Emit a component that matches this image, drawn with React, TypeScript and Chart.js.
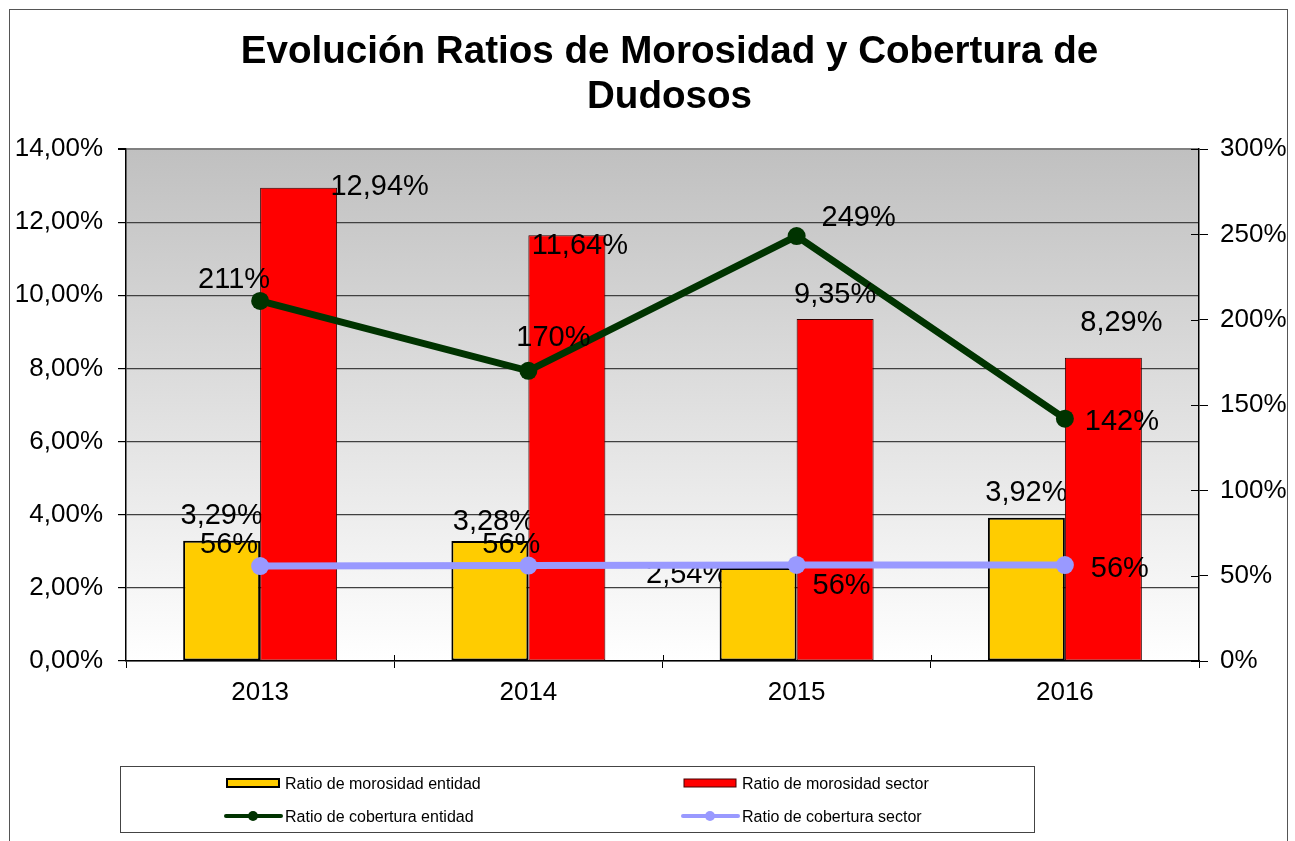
import React, { useEffect, useRef } from 'react';
import { Chart, registerables } from 'chart.js';

Chart.register(...registerables);

// ---------- data ----------
const categories = ['2013', '2014', '2015', '2016'];
const morosidadEntidad = [3.29, 3.28, 2.54, 3.92];
const morosidadSector = [12.94, 11.64, 9.35, 8.29];
const coberturaEntidad = [211, 170, 249, 142];
const coberturaSector = [55.6, 55.9, 56.3, 56.2];
const seriesNames = [
  'Ratio de morosidad entidad',
  'Ratio de morosidad sector',
  'Ratio de cobertura entidad',
  'Ratio de cobertura sector',
];
const titleLines = ['Evolución Ratios de Morosidad y Cobertura de', 'Dudosos'];
const leftAxis = { min: 0, max: 14, step: 2 };
const rightAxis = { min: 0, max: 300, step: 50 };

// ---------- styles ----------
const FONT = "'Liberation Sans', Arial, Helvetica, sans-serif";
const YELLOW = '#FFCC00';
const RED = '#FF0000';
const GREEN = '#003300';
const PURPLE = '#9999FF';
const LABEL_SIZE = 29;

// label offsets (px) from each mark's anchor: [dx, dy] of the text's ink centre
const labelOffsets: number[][][] = [
  [[0, -27], [4, -21], [-71, 5], [0, -27]],
  [[81, -3], [13, 8], [0, -26], [18, -37]],
  [[-26, -23], [25, -35], [62, -20], [57, 1]],
  [[-31, -23], [-17, -23], [45, 19], [55, 2]],
];

const fmtLeft = (v: number) => v.toFixed(2).replace('.', ',') + '%';
const fmtRight = (v: number) => Math.round(v) + '%';

function drawLabels(chart: any, dsIndex: number) {
  const { ctx } = chart;
  const meta = chart.getDatasetMeta(dsIndex);
  const data = chart.data.datasets[dsIndex].data as number[];
  const isRight = dsIndex >= 2;
  ctx.save();
  ctx.fillStyle = '#000';
  ctx.font = `${LABEL_SIZE}px ${FONT}`;
  ctx.textAlign = 'center';
  ctx.textBaseline = 'alphabetic';
  meta.data.forEach((el: any, i: number) => {
    const [dx, dy] = labelOffsets[dsIndex][i];
    const text = isRight ? fmtRight(data[i]) : fmtLeft(data[i]);
    ctx.fillText(text, el.x + dx, el.y + dy + LABEL_SIZE * 0.358);
  });
  ctx.restore();
}

const decorPlugin = {
  id: 'decor',
  beforeDraw(chart: any) {
    const { ctx, chartArea: a, width, height } = chart;
    ctx.save();
    ctx.fillStyle = '#fff';
    ctx.fillRect(0, 0, width, height);
    // outer frame
    ctx.strokeStyle = '#555';
    ctx.lineWidth = 1;
    ctx.strokeRect(9.5, 9.5, 1278, height + 20);
    // plot gradient
    const g = ctx.createLinearGradient(0, a.top, 0, a.bottom);
    g.addColorStop(0, '#C0C0C0');
    g.addColorStop(1, '#FFFFFF');
    ctx.fillStyle = g;
    ctx.fillRect(a.left, a.top, a.right - a.left, a.bottom - a.top);
    // title
    ctx.fillStyle = '#000';
    ctx.font = `bold 38.6px ${FONT}`;
    ctx.textAlign = 'center';
    ctx.textBaseline = 'alphabetic';
    const cx = (a.left + a.right) / 2 + 7;
    titleLines.forEach((t, i) => ctx.fillText(t, cx, 63 + i * 44.5));
    // legend
    ctx.strokeStyle = '#444';
    ctx.lineWidth = 1;
    ctx.strokeRect(120.5, 766.5, 914, 66);
    const cols = [227, 684];
    const rows = [783, 816];
    ctx.font = `16px ${FONT}`;
    ctx.textAlign = 'left';
    const items = [
      { kind: 'bar', color: YELLOW, border: '#000', bw: 2, col: 0, row: 0 },
      { kind: 'bar', color: RED, border: '#400', bw: 1, col: 1, row: 0 },
      { kind: 'line', color: GREEN, col: 0, row: 1 },
      { kind: 'line', color: PURPLE, col: 1, row: 1 },
    ];
    items.forEach((it, i) => {
      const x = cols[it.col];
      const y = rows[it.row];
      if (it.kind === 'bar') {
        ctx.fillStyle = it.color;
        ctx.fillRect(x, y - 4, 52, 8);
        ctx.strokeStyle = it.border!;
        ctx.lineWidth = it.bw!;
        ctx.strokeRect(x, y - 4, 52, 8);
      } else {
        ctx.strokeStyle = it.color;
        ctx.lineWidth = 4;
        ctx.lineCap = 'round';
        ctx.beginPath();
        ctx.moveTo(x - 1, y);
        ctx.lineTo(x + 54, y);
        ctx.stroke();
        ctx.fillStyle = it.color;
        ctx.beginPath();
        ctx.arc(x + 26, y, 5, 0, Math.PI * 2);
        ctx.fill();
      }
      ctx.fillStyle = '#000';
      ctx.fillText(seriesNames[i], x + 58, y + 5.7);
    });
    ctx.restore();
  },
  beforeDatasetsDraw(chart: any) {
    drawLabels(chart, 0);
  },
  afterDatasetsDraw(chart: any) {
    const { ctx, chartArea: a } = chart;
    // inner halves of crossing tick marks
    ctx.save();
    ctx.strokeStyle = '#000';
    ctx.lineWidth = 1;
    const n = categories.length;
    const step = (a.right - a.left) / n;
    for (let i = 1; i < n; i++) {
      const x = Math.round(a.left + i * step) + 0.5;
      ctx.beginPath();
      ctx.moveTo(x, a.bottom - 6);
      ctx.lineTo(x, a.bottom);
      ctx.stroke();
    }
    const y1 = chart.scales.y1;
    y1.ticks.forEach((t: any) => {
      const y = Math.round(y1.getPixelForValue(t.value)) + 0.5;
      ctx.beginPath();
      ctx.moveTo(a.right - 8, y);
      ctx.lineTo(a.right, y);
      ctx.stroke();
    });
    ctx.restore();
    drawLabels(chart, 1);
    drawLabels(chart, 2);
    drawLabels(chart, 3);
  },
};

export default function App() {
  const ref = useRef<HTMLCanvasElement>(null);
  useEffect(() => {
    if (!ref.current) return;
    const tickFont = { family: FONT, size: 26 };
    const chart = new Chart(ref.current, {
      type: 'bar',
      data: {
        labels: categories,
        datasets: [
          {
            type: 'bar',
            label: seriesNames[0],
            data: morosidadEntidad,
            backgroundColor: YELLOW,
            borderColor: '#000',
            borderWidth: 2,
            borderSkipped: false,
            yAxisID: 'y',
            order: 2,
            categoryPercentage: 0.574,
            barPercentage: 1,
          },
          {
            type: 'bar',
            label: seriesNames[1],
            data: morosidadSector,
            backgroundColor: RED,
            borderColor: '#300',
            borderWidth: 1,
            borderSkipped: false,
            yAxisID: 'y',
            order: 2,
            categoryPercentage: 0.574,
            barPercentage: 1,
          },
          {
            type: 'line',
            label: seriesNames[2],
            data: coberturaEntidad,
            borderColor: GREEN,
            backgroundColor: GREEN,
            borderWidth: 7,
            pointRadius: 9,
            pointBorderWidth: 0,
            pointBackgroundColor: GREEN,
            tension: 0,
            yAxisID: 'y1',
            order: 1,
          },
          {
            type: 'line',
            label: seriesNames[3],
            data: coberturaSector,
            borderColor: PURPLE,
            backgroundColor: PURPLE,
            borderWidth: 7,
            pointRadius: 9,
            pointBorderWidth: 0,
            pointBackgroundColor: PURPLE,
            tension: 0,
            yAxisID: 'y1',
            order: 0,
          },
        ] as any,
      },
      options: {
        responsive: false,
        animation: false,
        layout: { padding: { left: 8, right: 0, top: 149, bottom: 140 } },
        plugins: {
          legend: { display: false },
          title: { display: false },
          tooltip: { enabled: false },
        },
        scales: {
          x: {
            type: 'category',
            offset: true,
            grid: { offset: true, drawOnChartArea: false, tickLength: 7, tickColor: '#000' },
            border: { color: '#000', width: 1.5 },
            ticks: { color: '#000', font: tickFont, padding: 9 },
            afterFit: (s: any) => { s.height = 40; },
          },
          y: {
            position: 'left',
            min: leftAxis.min,
            max: leftAxis.max,
            ticks: {
              stepSize: leftAxis.step,
              color: '#000',
              font: tickFont,
              padding: 15,
              callback: (v: any) => fmtLeft(Number(v)),
            },
            grid: {
              color: (c: any) => (c.tick && c.tick.value === leftAxis.max ? '#808080' : '#404040'),
              lineWidth: (c: any) => (c.tick && c.tick.value === leftAxis.max ? 2 : 1.2),
              tickLength: 8,
              tickColor: '#000',
            },
            border: { color: '#000', width: 1.5 },
            afterFit: (s: any) => { s.width = 118; },
          },
          y1: {
            position: 'right',
            min: rightAxis.min,
            max: rightAxis.max,
            ticks: {
              stepSize: rightAxis.step,
              color: '#000',
              font: tickFont,
              padding: 12,
              callback: (v: any) => fmtRight(Number(v)),
            },
            grid: { drawOnChartArea: false, tickLength: 9, tickColor: '#000' },
            border: { color: '#000', width: 1.5 },
            afterFit: (s: any) => { s.width = 96; },
          },
        },
      } as any,
      plugins: [decorPlugin],
    });
    return () => chart.destroy();
  }, []);
  return (
    <div style={{ position: 'fixed', left: 0, top: 0, width: 1295, height: 841, background: '#fff' }}>
      <canvas ref={ref} width={1295} height={841} style={{ display: 'block' }} />
    </div>
  );
}
